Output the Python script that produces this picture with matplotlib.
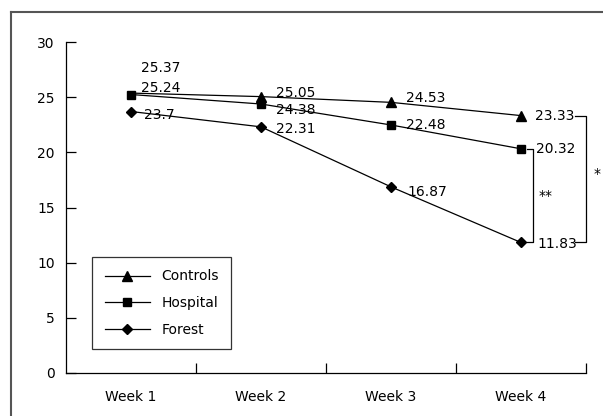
import matplotlib
matplotlib.use("Agg")
import matplotlib.pyplot as plt
from matplotlib.lines import Line2D

weeks = ["Week 1", "Week 2", "Week 3", "Week 4"]
controls = [25.37, 25.05, 24.53, 23.33]
hospital = [25.24, 24.38, 22.48, 20.32]
forest = [23.7, 22.31, 16.87, 11.83]

plt.rcParams['font.family'] = ['DejaVu Sans']
plt.rcParams['font.size'] = 10

W, H = 603, 416
fig = plt.figure(figsize=(W / 100, H / 100), dpi=100)
ax = fig.add_axes([66 / W, 1 - 373 / H, (586 - 66) / W, (373 - 42) / H])

x = [1, 2, 3, 4]
# week 1 triangle is hidden under the square in the original
ax.plot(x, controls, color='black', lw=0.9, marker='^', ms=7, markevery=[1, 2, 3], label='Controls')
ax.plot(x, hospital, color='black', lw=0.9, marker='s', ms=5.5, label='Hospital')
ax.plot(x, forest, color='black', lw=0.9, marker='D', ms=5.5, label='Forest')

# label offsets in pixels (right, up)
offs_c = [(10, 25), (15, 4), (15, 4), (14, 0)]
offs_h = [(10, 7), (15, -6), (15, 0), (15, 0)]
offs_f = [(13, -3), (15, -2), (16, -5), (16, -2)]
for vals, offs in [(controls, offs_c), (hospital, offs_h), (forest, offs_f)]:
    for xi, v, o in zip(x, vals, offs):
        ax.annotate(f"{v:g}", (xi, v), xytext=o, textcoords='offset pixels',
                    ha='left', va='center', fontsize=10)

ax.set_xlim(0.5, 4.5)
ax.set_ylim(0, 30)
ax.set_yticks([0, 5, 10, 15, 20, 25, 30])
ax.set_xticks([1.5, 2.5, 3.5, 4.5])
ax.set_xticklabels([])
ax.set_xticks(x, minor=True)
ax.set_xticklabels(weeks, minor=True)
ax.tick_params(axis='x', which='minor', length=0, pad=12)
ax.tick_params(axis='both', which='major', direction='in', length=7, width=0.9)
ax.tick_params(axis='y', pad=8)
for s in ['top', 'right']:
    ax.spines[s].set_visible(False)
for s in ['left', 'bottom']:
    ax.spines[s].set_linewidth(0.9)

# significance brackets
def px_to_data_x(px):
    return 0.5 + (px - 66) / (586 - 66) * 4

bx1 = px_to_data_x(533)
bx0 = px_to_data_x(527)
ax.plot([bx0, bx1, bx1, bx0], [hospital[3], hospital[3], forest[3], forest[3]],
        color='black', lw=0.9, clip_on=False)
ax.text(px_to_data_x(539), (hospital[3] + forest[3]) / 2, "**", ha='left', va='center', fontsize=10)
sx1 = px_to_data_x(586)
sx0 = px_to_data_x(575)
ax.plot([sx0, sx1, sx1, sx0], [controls[3], controls[3], forest[3], forest[3]],
        color='black', lw=0.9, clip_on=False)
ax.text(px_to_data_x(594), 18, "*", ha='left', va='center', fontsize=10)

leg = ax.legend(loc='upper left', bbox_to_anchor=(92 / W, 1 - 257 / H),
                bbox_transform=fig.transFigure, borderaxespad=0, fancybox=False,
                frameon=True, edgecolor='black', handlelength=3.3,
                handletextpad=0.8, labelspacing=0.9, borderpad=0.9, fontsize=10)
leg.get_frame().set_linewidth(0.9)
leg.legend_handles[0].set_markevery([1])

# outer frame (top and left edges)
fig.add_artist(Line2D([11 / W, 1], [1 - 12 / H, 1 - 12 / H], color='#555555', lw=1.5))
fig.add_artist(Line2D([11 / W, 11 / W], [0, 1 - 12 / H], color='#555555', lw=1.5))

fig.savefig("out.png", dpi=100)
